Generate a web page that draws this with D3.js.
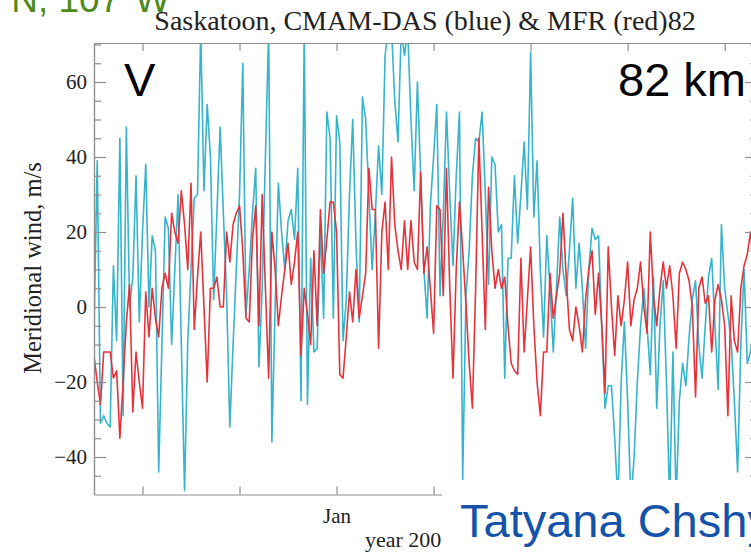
<!DOCTYPE html>
<html>
<head>
<meta charset="utf-8">
<script src="https://cdn.jsdelivr.net/npm/d3@7"></script>
<style>
body{margin:0;background:#fff;}
svg{display:block;}
</style>
</head>
<body>
<svg id="chart"></svg>
<script>
//daily meridional wind at 82 km, one value per day (day 75 = 1 Jan)
var blueWind = [-6,39,-31,-29,-31,-32,11,-9,45,-29,48,0,8,35,-4,20,38,0,19,15,
  -44,-10,24,21,-10,10,30,-10,-49,-9,10,29,30,74,31,54,40,2,25,48,
  25,3,-32,-10,10,30,65,-2,10,25,37,-16,5,40,74,-36,0,33,20,10,
  23,26,18,37,-25,74,-26,13,-12,-11,21,-3,52,45,-3,51,44,-9,2,30,
  50,17,-4,56,50,30,10,25,43,30,67,74,74,55,44,74,67,74,50,31,
  60,35,10,-3,27,40,54,3,25,52,30,11,35,52,-46,3,15,35,45,44,
  52,30,6,40,38,20,22,-19,13,13,35,17,30,44,26,68,24,39,10,-8,
  19,5,-12,5,24,10,3,15,29,5,17,5,-11,10,21,18,19,-5,-27,-21,
  -21,-35,-52,-20,-4,-25,-52,-40,-20,-5,5,-5,-18,8,-27,-5,7,-20,-52,-12,
  -52,-25,-15,-21,-8,2,7,-10,-19,-5,8,13,-5,-22,22,5,-2,-9,-25,-44,
  -10,10,-15,-12,-5];
var redWind = [-13,-20,-26,-12,-12,-12,-19,-17,-35,-20,-4,6,-28,-12,-20,-27,4,-8,5,-3,
  -8,5,9,5,25,20,17,31,22,10,33,-6,8,20,0,-20,5,5,8,0,
  0,20,12,22,25,27,15,-3,-4,18,27,-5,30,5,-19,20,10,-5,3,10,
  17,6,12,20,-13,5,-2,-10,15,-5,26,9,18,28,28,20,-18,-19,-8,4,
  -4,10,-3,3,9,37,26,26,-11,20,28,10,40,22,15,10,23,10,23,12,
  10,36,9,16,5,-7,27,26,3,37,5,-19,10,28,15,1,-15,-27,5,45,
  20,-6,32,15,5,10,5,8,-5,-15,-17,-18,13,-12,2,16,-5,-20,-29,-12,
  -12,9,-3,3,9,25,8,-6,-9,0,-5,-12,2,10,15,-2,9,-5,-23,16,
  0,-13,3,-5,2,12,-5,2,5,12,0,-7,20,3,-5,5,12,5,11,3,
  -11,9,12,10,7,0,-24,5,8,1,3,-12,2,6,2,-5,-29,3,-9,-12,
  5,11,14,20,10];

var yMajor = [-40,-20,0,20,40,60];
var yMinor = [-45,-35,-30,-25,-15,-10,-5,5,10,15,25,30,35,45,50,55,65,70];
var dayTicks = [15,45,75,105,135,165,195];
var dayTickLabels = ["","","Jan","","","",""];

var width = 751, height = 552;
var plotLeft = 94, plotRight = 757, plotTop = 43, plotBottom = 494.5;
var axisColor = "#8e8e8e";
var serif = "'Liberation Serif','Times New Roman',serif";
var sans = "'Liberation Sans',Arial,sans-serif";

var svg = d3.select("#chart")
  .attr("width", width)
  .attr("height", height);

var x = d3.scaleLinear().domain([0, 205]).range([plotLeft, plotRight]);
var y = d3.scaleLinear().domain([-50, 70.4]).range([plotBottom, plotTop]);

//clip so the spikes stop at the frame
svg.append("clipPath").attr("id", "plotclip")
  .append("rect")
  .attr("x", plotLeft).attr("y", plotTop)
  .attr("width", plotRight - plotLeft).attr("height", plotBottom - plotTop);

var line = d3.line()
  .x(function(d, i){ return x(i); })
  .y(function(d){ return y(d); });

var plot = svg.append("g").attr("clip-path", "url(#plotclip)");
plot.append("path")
  .datum(blueWind)
  .attr("d", line)
  .attr("fill", "none")
  .attr("stroke", "#36b4cb")
  .attr("stroke-width", 1.6)
  .attr("stroke-linejoin", "round");
plot.append("path")
  .datum(redWind)
  .attr("d", line)
  .attr("fill", "none")
  .attr("stroke", "#e6333b")
  .attr("stroke-width", 1.6)
  .attr("stroke-linejoin", "round");

//axes, ticks point inward
var styleAxis = function(g)
{
  g.selectAll("path,line").attr("stroke", axisColor).attr("stroke-width", 1.2);
  g.selectAll("text").attr("fill", "#222").attr("font-family", serif);
}

svg.append("g")
  .attr("transform", "translate(" + plotLeft + ",0)")
  .call(d3.axisLeft(y).tickValues(yMajor).tickSizeInner(-12).tickSizeOuter(0).tickPadding(7))
  .call(styleAxis)
  .selectAll("text").attr("font-size", 21);
svg.append("g")
  .attr("transform", "translate(" + plotLeft + ",0)")
  .call(d3.axisLeft(y).tickValues(yMinor).tickSizeInner(-7).tickSizeOuter(0).tickFormat(""))
  .call(styleAxis);

svg.append("g")
  .attr("transform", "translate(" + plotRight + ",0)")
  .call(d3.axisRight(y).tickValues(yMajor).tickSizeInner(-12).tickSizeOuter(0).tickFormat(""))
  .call(styleAxis);
svg.append("g")
  .attr("transform", "translate(" + plotRight + ",0)")
  .call(d3.axisRight(y).tickValues(yMinor).tickSizeInner(-7).tickSizeOuter(0).tickFormat(""))
  .call(styleAxis);

svg.append("g")
  .attr("transform", "translate(0," + plotTop + ")")
  .call(d3.axisTop(x).tickValues(dayTicks).tickSizeInner(-8).tickSizeOuter(0).tickFormat(""))
  .call(styleAxis);
svg.append("g")
  .attr("transform", "translate(0," + plotBottom + ")")
  .call(d3.axisBottom(x).tickValues(dayTicks).tickSizeInner(-8).tickSizeOuter(0).tickPadding(14)
    .tickFormat(function(d, i){ return dayTickLabels[i]; }))
  .call(styleAxis)
  .selectAll("text").attr("font-size", 21);

//titles
svg.append("text")
  .attr("x", 425).attr("y", 30)
  .attr("text-anchor", "middle")
  .attr("font-family", serif).attr("font-size", 28).attr("fill", "#222")
  .text("Saskatoon, CMAM-DAS (blue) & MFR (red)82");

svg.append("text")
  .attr("transform", "translate(41,268) rotate(-90)")
  .attr("text-anchor", "middle")
  .attr("font-family", serif).attr("font-size", 24.5).attr("fill", "#222")
  .text("Meridional wind, m/s");

svg.append("text")
  .attr("x", 365).attr("y", 547)
  .attr("font-family", serif).attr("font-size", 22).attr("fill", "#222")
  .text("year 2001");

//slide overlays
svg.append("text")
  .attr("x", 170).attr("y", 12)
  .attr("text-anchor", "end")
  .attr("font-family", sans).attr("font-size", 37).attr("fill", "#4f8a1c")
  .text("52°N, 107°W");

svg.append("text")
  .attr("x", 124).attr("y", 96)
  .attr("font-family", sans).attr("font-size", 47).attr("fill", "#000")
  .text("V");

svg.append("text")
  .attr("x", 618).attr("y", 96)
  .attr("font-family", sans).attr("font-size", 47).attr("fill", "#000")
  .text("82 km");

svg.append("rect")
  .attr("x", 442).attr("y", 480)
  .attr("width", width - 442).attr("height", height - 480)
  .attr("fill", "#fff");

svg.append("text")
  .attr("x", 460).attr("y", 537)
  .attr("font-family", sans).attr("font-size", 47).attr("fill", "#1553ab")
  .text("Tatyana Chshyolkova");
</script>
</body>
</html>
